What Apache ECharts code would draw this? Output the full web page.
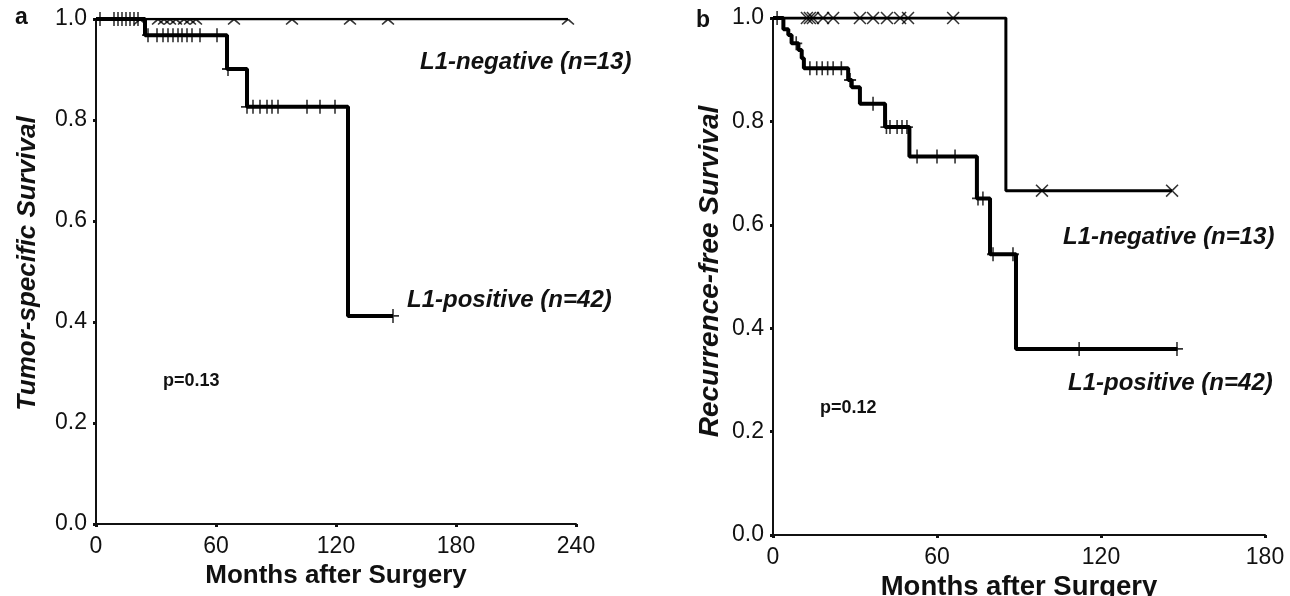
<!DOCTYPE html>
<html><head><meta charset="utf-8">
<script src="https://cdn.jsdelivr.net/npm/echarts@6/dist/echarts.min.js"></script>
<style>html,body{margin:0;padding:0;background:#fff}#c{width:1290px;height:596px}</style>
</head><body><div id="c"></div>
<script>
// ---------- Data (panel a: tumor-specific survival) ----------
const aPosTimes = [0, 24.5, 65.5, 75.5, 126, 148.5];
const aPosSurv  = [1, 0.968, 0.901, 0.826, 0.412, 0.412];
const aPosCens  = [2, 9, 11, 13, 15, 17, 19, 21, 26, 30.5, 33.5, 36, 38.5, 41, 43, 45.5, 48, 52, 60.5, 66, 75.5, 78.5, 82, 85.5, 88, 91, 105.5, 112, 119.5, 148.5];
const aNegTimes = [0, 236];
const aNegSurv  = [1, 1];
const aNegCens  = [22, 31, 34, 37, 40, 44, 47, 50, 69, 98, 127, 146, 236];

// ---------- Data (panel b: recurrence-free survival) ----------
const bPosTimes = [0, 3.8, 5.6, 6.8, 9.3, 10.5, 11.3, 27.5, 28.8, 31.8, 41, 49.9, 74.6, 79.4, 88.9, 148];
const bPosSurv  = [1, 0.978, 0.967, 0.951, 0.938, 0.922, 0.903, 0.88, 0.866, 0.834, 0.789, 0.732, 0.651, 0.543, 0.36, 0.36];
const bPosCens  = [1.5, 8.5, 13.5, 16, 18, 20, 22, 25, 28.2, 36.6, 41.5, 42.8, 45.4, 47.2, 49, 52.7, 60, 66.6, 75, 76.8, 80.5, 87.8, 112, 147.8];
const bNegTimes = [0, 85.2, 146];
const bNegSurv  = [1, 0.666, 0.666];
const bNegCens  = [12.4, 13.5, 14.6, 18.3, 22, 31.8, 36.6, 41.7, 46.5, 49.4, 65.9, 98.4, 146];

// ---------- Tick labels ----------
const yTicks = [0, 0.2, 0.4, 0.6, 0.8, 1.0];
const aXTicks = [0, 60, 120, 180, 240];
const bXTicks = [0, 60, 120, 180];

function curve(times, surv){ return times.map((t,i)=>[t, surv[i]]); }
function survAt(times, surv, t){
  let v = surv[0];
  for (let i=0;i<times.length;i++){ if (times[i] <= t) v = surv[i]; }
  return v;
}
function marks(cens, times, surv){ return cens.map(t=>[t, survAt(times, surv, t)]); }

const PLUS = 'path://M5.2,0 H6.8 V5.2 H12 V6.8 H6.8 V12 H5.2 V6.8 H0 V5.2 H5.2 Z';
const CROSS = 'path://M0,1 L1,0 L6,5 L11,0 L12,1 L7,6 L12,11 L11,12 L6,7 L1,12 L0,11 L5,6 Z';
const HALFCROSS = 'path://M5,0 L7,0 L12,5 L11,6 L6,1.4 L1,6 L0,5 Z';
const FONT = 'Liberation Sans, Arial, sans-serif';

function yAxis(idx, name, gap, nameSize, pad){
  return {
    type:'value', gridIndex: idx, min:0, max:1, interval:0.2,
    name: name, nameLocation:'middle', nameGap: gap, nameRotate: 90,
    nameTextStyle:{fontFamily:FONT, fontSize:nameSize, fontWeight:'bold', fontStyle:'italic', color:'#111', padding:pad},
    axisLine:{show:true, lineStyle:{color:'#111', width:2}},
    axisTick:{show:true, length:3, lineStyle:{color:'#111', width:3}},
    axisLabel:{fontFamily:FONT, fontSize:23, color:'#111', margin:9, formatter:v=>v.toFixed(1)},
    splitLine:{show:false}
  };
}
function xAxis(idx, max, gap, nameSize){
  return {
    type:'value', gridIndex: idx, min:0, max:max, interval:60,
    name:'Months after Surgery', nameLocation:'middle', nameGap: gap,
    nameTextStyle:{fontFamily:FONT, fontSize:nameSize, fontWeight:'bold', color:'#111'},
    axisLine:{show:true, lineStyle:{color:'#111', width:2}},
    axisTick:{show:true, length:3, lineStyle:{color:'#111', width:3}},
    axisLabel:{fontFamily:FONT, fontSize:23, color:'#111', margin:11},
    splitLine:{show:false}
  };
}
function lineSeries(idx, data, w){
  return {type:'line', xAxisIndex:idx, yAxisIndex:idx, step:'end', data:data, showSymbol:false, symbol:'none',
    lineStyle:{color:'#000', width:w}, silent:true, animation:false, z:3};
}
function scatterSeries(idx, data, sym, size, offset){
  return {type:'scatter', xAxisIndex:idx, yAxisIndex:idx, data:data, symbol:sym, symbolSize:size,
    symbolOffset: offset || [0,0],
    itemStyle:{color:'#000'}, clip:false, silent:true, animation:false, z:4};
}

const chart = echarts.init(document.getElementById('c'), null, {renderer:'canvas'});
chart.setOption({
  animation:false,
  backgroundColor:'#fff',
  grid:[
    {left:96, top:19, width:480, height:505, outerBoundsMode:'none', containLabel:false},
    {left:773, top:18, width:492, height:517, outerBoundsMode:'none', containLabel:false}
  ],
  xAxis:[xAxis(0, 240, 39, 26), xAxis(1, 180, 34, 27.5)],
  yAxis:[yAxis(0, 'Tumor-specific Survival', 55, 26, [0,0,0,16]), yAxis(1, 'Recurrence-free Survival', 49, 28, [0,0,0,10])],
  series:[
    lineSeries(0, curve(aNegTimes, aNegSurv), 2.5),
    lineSeries(0, curve(aPosTimes, aPosSurv), 4),
    scatterSeries(0, marks(aNegCens, aNegTimes, aNegSurv), HALFCROSS, [13,6], [0,3]),
    scatterSeries(0, marks(aPosCens, aPosTimes, aPosSurv), PLUS, [12,14]),
    lineSeries(1, curve(bNegTimes, bNegSurv), 3),
    lineSeries(1, curve(bPosTimes, bPosSurv), 4),
    scatterSeries(1, marks(bNegCens, bNegTimes, bNegSurv), CROSS, 13),
    scatterSeries(1, marks(bPosCens, bPosTimes, bPosSurv), PLUS, [12,14])
  ],
  graphic:[
    {type:'text', left:15, top:6, style:{text:'a', font:'bold 23px '+FONT, fill:'#111'}},
    {type:'text', left:696, top:9, style:{text:'b', font:'bold 23px '+FONT, fill:'#111'}},
    {type:'text', left:420, top:50, style:{text:'L1-negative (n=13)', font:'italic bold 24px '+FONT, fill:'#111'}},
    {type:'text', left:407, top:288, style:{text:'L1-positive (n=42)', font:'italic bold 24px '+FONT, fill:'#111'}},
    {type:'text', left:163, top:372, style:{text:'p=0.13', font:'bold 18px '+FONT, fill:'#111'}},
    {type:'text', left:1063, top:225, style:{text:'L1-negative (n=13)', font:'italic bold 24px '+FONT, fill:'#111'}},
    {type:'text', left:1068, top:371, style:{text:'L1-positive (n=42)', font:'italic bold 24px '+FONT, fill:'#111'}},
    {type:'text', left:820, top:399, style:{text:'p=0.12', font:'bold 18px '+FONT, fill:'#111'}}
  ]
});
</script></body></html>
